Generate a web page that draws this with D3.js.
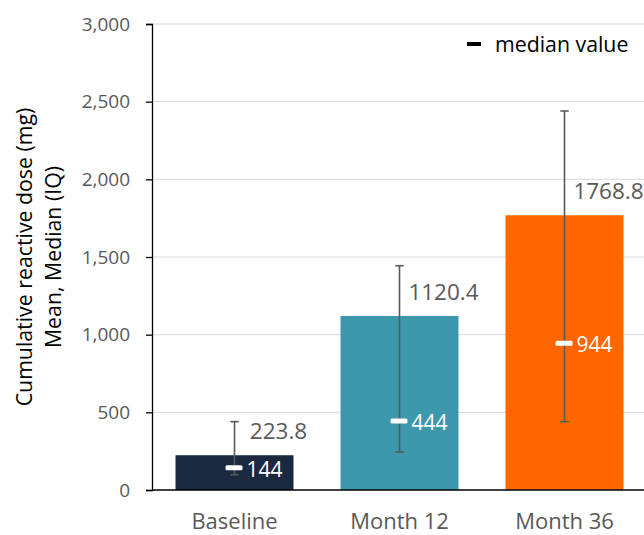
<!DOCTYPE html>
<html><head><meta charset="utf-8">
<script src="https://cdn.jsdelivr.net/npm/d3@7"></script>
<style>body{margin:0;background:#fff}svg{display:block}text{font-family:"Open Sans",sans-serif}</style>
</head><body><svg id="c" width="644" height="535"></svg>
<script>
const categories = ["Baseline", "Month 12", "Month 36"];
const means = [223.8, 1120.4, 1768.8];
const medians = [144, 444, 944];
const q1 = [98, 244, 440];
const q3 = [440, 1444, 2440];
const barColors = ["#1a2940", "#3d97ad", "#ff6600"];
const yTicks = [0, 500, 1000, 1500, 2000, 2500, 3000];

const svg = d3.select("#c");
const m = {left: 152, top: 24, bottom: 490, right: 647};
const x = d3.scaleBand().domain(categories).range([m.left, m.right]).paddingInner(0.285).paddingOuter(0.1425);
const y = d3.scaleLinear().domain([0, 3000]).range([m.bottom, m.top]);
const grey = "#595959";

// gridlines
svg.append("g").selectAll("line").data(yTicks.filter(d => d > 0)).join("line")
  .attr("x1", m.left).attr("x2", 644).attr("y1", d => y(d)).attr("y2", d => y(d))
  .attr("stroke", "#d9d9d9").attr("stroke-width", 1);

// bars
svg.append("g").selectAll("rect").data(categories).join("rect")
  .attr("x", d => x(d)).attr("width", x.bandwidth())
  .attr("y", (d, i) => y(means[i])).attr("height", (d, i) => y(0) - y(means[i]))
  .attr("fill", (d, i) => barColors[i]);

// y axis
const yAxis = svg.append("g").attr("transform", `translate(${m.left},0)`)
  .call(d3.axisLeft(y).tickValues(yTicks).tickSize(6).tickPadding(16).tickFormat(d3.format(",")));
yAxis.select(".domain").attr("stroke", "#000").attr("stroke-width", 1.3);
yAxis.selectAll(".tick line").attr("stroke", "#000").attr("stroke-width", 1.3);
yAxis.selectAll("text").attr("fill", grey).attr("font-size", 19);

// x axis baseline
svg.append("line").attr("x1", m.left).attr("x2", 644).attr("y1", y(0)).attr("y2", y(0))
  .attr("stroke", "#000").attr("stroke-width", 1.3);

// x labels
svg.append("g").selectAll("text").data(categories).join("text")
  .attr("x", d => x(d) + x.bandwidth() / 2).attr("y", 529)
  .attr("text-anchor", "middle").attr("fill", grey).attr("font-size", 22).text(d => d);

// error bars
const eb = svg.append("g").attr("stroke", grey).attr("stroke-width", 1.6);
categories.forEach((c, i) => {
  const cx = x(c) + x.bandwidth() / 2;
  eb.append("line").attr("x1", cx).attr("x2", cx).attr("y1", y(q3[i])).attr("y2", y(q1[i]));
  eb.append("line").attr("x1", cx - 4.2).attr("x2", cx + 4.2).attr("y1", y(q3[i])).attr("y2", y(q3[i]));
  eb.append("line").attr("x1", cx - 4.2).attr("x2", cx + 4.2).attr("y1", y(q1[i])).attr("y2", y(q1[i]));
});

// median markers
svg.append("g").selectAll("rect").data(categories).join("rect")
  .attr("x", d => x(d) + x.bandwidth() / 2 - 9).attr("width", 17)
  .attr("y", (d, i) => y(medians[i]) - 2.5).attr("height", 5).attr("rx", 1.5)
  .attr("fill", "#fff");

// mean labels
svg.append("g").selectAll("text").data(categories).join("text")
  .attr("x", d => x(d) + x.bandwidth() / 2 + 44).attr("text-anchor", "middle")
  .attr("y", (d, i) => y(means[i]) - 16)
  .attr("fill", grey).attr("font-size", 22.5).text((d, i) => means[i].toFixed(1));

// median labels
svg.append("g").selectAll("text").data(categories).join("text")
  .attr("x", d => x(d) + x.bandwidth() / 2 + 30).attr("text-anchor", "middle")
  .attr("y", (d, i) => y(medians[i]) + 9)
  .attr("fill", "#fff").attr("font-size", 21).text((d, i) => medians[i]);

// y axis title
const t = svg.append("text").attr("transform", `translate(0,${(m.top + m.bottom) / 2}) rotate(-90)`)
  .attr("text-anchor", "middle").attr("fill", "#000").attr("font-size", 21.3);
t.append("tspan").attr("x", 0).attr("y", 32).text("Cumulative reactive dose (mg)");
t.append("tspan").attr("x", 0).attr("y", 61).text("Mean, Median (IQ)");

// legend
svg.append("line").attr("x1", 467).attr("x2", 481).attr("y1", 44).attr("y2", 44)
  .attr("stroke", "#000").attr("stroke-width", 4);
svg.append("text").attr("x", 495).attr("y", 52).attr("fill", "#000").attr("font-size", 21.3).text("median value");
</script></body></html>
